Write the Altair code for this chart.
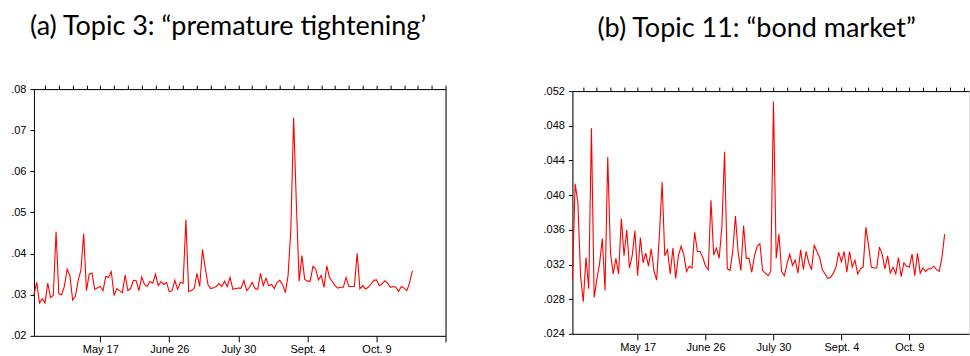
import altair as alt
import pandas as pd

# ---- data ----
topic3 = [0.030, 0.033, 0.028, 0.029, 0.028, 0.0328, 0.0293, 0.0298, 0.0453, 0.0302,
          0.030, 0.032, 0.0362, 0.0347, 0.0287, 0.0296, 0.0335, 0.036, 0.0448, 0.031,
          0.035, 0.0353, 0.0313, 0.0317, 0.032, 0.031, 0.0345, 0.0342, 0.0356, 0.0298,
          0.0315, 0.031, 0.0305, 0.0348, 0.031, 0.0315, 0.0335, 0.0334, 0.031, 0.0343,
          0.0325, 0.032, 0.0332, 0.0328, 0.035, 0.0322, 0.0332, 0.0325, 0.033, 0.0307,
          0.031, 0.0335, 0.0313, 0.033, 0.0328, 0.0482, 0.0308, 0.031, 0.0315, 0.0352,
          0.032, 0.041, 0.0365, 0.0325, 0.0315, 0.0317, 0.032, 0.0327, 0.032, 0.0333,
          0.032, 0.0342, 0.0313, 0.0315, 0.0316, 0.0316, 0.0335, 0.031, 0.0318, 0.033,
          0.0315, 0.0313, 0.0352, 0.0322, 0.034, 0.0322, 0.0325, 0.0315, 0.033, 0.0335,
          0.0325, 0.0305, 0.0347, 0.046, 0.073, 0.052, 0.0333, 0.0395, 0.0338, 0.0333,
          0.0333, 0.0369, 0.0362, 0.0336, 0.0347, 0.0318, 0.037, 0.0342, 0.0332, 0.0322,
          0.0316, 0.0318, 0.0318, 0.0342, 0.032, 0.032, 0.032, 0.0401, 0.0314, 0.0322,
          0.0314, 0.0318, 0.0326, 0.0335, 0.0336, 0.0322, 0.0326, 0.0334, 0.0328, 0.0318,
          0.032, 0.0318, 0.0308, 0.032, 0.0316, 0.031, 0.033, 0.0358]

topic11 = [0.0303, 0.0413, 0.0392, 0.0307, 0.0277, 0.0328, 0.0292, 0.0477, 0.0282, 0.0303,
           0.0321, 0.035, 0.029, 0.0444, 0.0334, 0.0309, 0.0327, 0.0309, 0.0373, 0.033,
           0.036, 0.0316, 0.033, 0.0359, 0.0307, 0.0351, 0.0322, 0.0333, 0.0318, 0.0338,
           0.0313, 0.0302, 0.0353, 0.0415, 0.033, 0.0337, 0.0309, 0.0339, 0.0304, 0.033,
           0.0341, 0.0331, 0.0312, 0.0318, 0.0316, 0.0357, 0.0335, 0.0335, 0.0328, 0.0318,
           0.0314, 0.0394, 0.0331, 0.0339, 0.0327, 0.0363, 0.045, 0.0315, 0.0313, 0.0335,
           0.0376, 0.0334, 0.0313, 0.0365, 0.0327, 0.0327, 0.0311, 0.033, 0.0341, 0.0344,
           0.0313, 0.031, 0.0307, 0.0312, 0.0508, 0.0327, 0.0355, 0.0312, 0.0307, 0.0321,
           0.0332, 0.0319, 0.0325, 0.031, 0.0337, 0.0314, 0.0335, 0.0322, 0.0314, 0.0342,
           0.0335, 0.0328, 0.0314, 0.0309, 0.0304, 0.0305, 0.031, 0.0317, 0.0334, 0.0323,
           0.0335, 0.0311, 0.0335, 0.0317, 0.0325, 0.0309, 0.0315, 0.0317, 0.0363, 0.0342,
           0.0317, 0.0316, 0.0316, 0.034, 0.0332, 0.0315, 0.033, 0.031, 0.0317, 0.0309,
           0.0328, 0.0306, 0.0322, 0.0318, 0.0317, 0.0332, 0.0307, 0.0333, 0.031, 0.0316,
           0.0312, 0.0315, 0.0315, 0.0318, 0.0314, 0.0312, 0.0328, 0.0355]

tick_pos = [25, 50, 75, 100, 125]
tick_labels = ["May 17", "June 26", "July 30", "Sept. 4", "Oct. 9"]
minor_pos = list(range(5, 151, 5))

title_a = "(a) Topic 3: \u201cpremature tightening\u2019"
title_b = "(b) Topic 11: \u201cbond market\u201d"

yticks_a = [0.02, 0.03, 0.04, 0.05, 0.06, 0.07, 0.08]
yticks_b = [0.024, 0.028, 0.032, 0.036, 0.040, 0.044, 0.048, 0.052]

label_expr = "''"
for p, l in reversed(list(zip(tick_pos, tick_labels))):
    label_expr = f"datum.value == {p} ? '{l}' : ({label_expr})"

RED = "#ff0000"
LBL_FONT = "Liberation Sans"


def panel(values, xmax, ydom, yticks, yfmt, width, height, title, title_dx, right_axis):
    df = pd.DataFrame({"idx": list(range(1, len(values) + 1)), "v": values})
    xs = alt.Scale(domain=[1, xmax], nice=False, zero=False)
    ys = alt.Scale(domain=ydom, nice=False, zero=False)
    base = alt.Chart(df)
    majors = [p for p in tick_pos + [150] if p <= xmax]
    minors = [p for p in minor_pos if p <= xmax]

    main = base.mark_line(color=RED, strokeWidth=1.1).encode(
        x=alt.X("idx:Q", scale=xs, title=None,
                axis=alt.Axis(values=majors, labelExpr=label_expr, tickSize=6,
                              labelPadding=2, domain=True, grid=False,
                              labelFont=LBL_FONT, labelFontSize=11, labelColor="black",
                              tickColor="black", domainColor="black",
                              labelFlush=False, labelOverlap=False)),
        y=alt.Y("v:Q", scale=ys, title=None,
                axis=alt.Axis(values=yticks, labelExpr=f"slice(format(datum.value, '{yfmt}'), 1)",
                              tickSize=4, labelPadding=4, domain=True, grid=False,
                              labelFont=LBL_FONT, labelFontSize=11, labelColor="black",
                              tickColor="black", domainColor="black",
                              labelFlush=False, labelOverlap=False)),
    )
    minor = base.mark_line(strokeOpacity=0).encode(
        x=alt.X("idx:Q", scale=xs, title=None,
                axis=alt.Axis(values=minors, labels=False, tickSize=4, domain=False,
                              grid=False, tickColor="black")),
        y=alt.Y("v:Q", scale=ys, title=None,
                axis=(alt.Axis(orient="right", labels=False, ticks=False, domain=True,
                               grid=False, domainColor="black") if right_axis else None)),
    )
    top = base.mark_line(strokeOpacity=0).encode(
        x=alt.X("idx:Q", scale=xs, title=None,
                axis=alt.Axis(orient="top", labels=False, ticks=False, domain=True,
                              grid=False, domainColor="black")),
        y=alt.Y("v:Q", scale=ys, title=None, axis=None),
    )
    return alt.layer(main, minor, top).resolve_axis(x="independent", y="independent").properties(
        width=width, height=height,
        title=alt.TitleParams(title, anchor="start", frame="group", dx=title_dx,
                              font="Lato", fontSize=27, fontWeight="normal",
                              color="black", offset=42),
    )


left = panel(topic3, 150, [0.02, 0.08], yticks_a, ".2f", 412, 247, title_a, -4, True)
right = panel(topic11, 146.96, [0.024, 0.052], yticks_b, ".3f", 397, 243, title_b, 25, False)

chart = alt.hconcat(left, right, spacing=127, bounds="flush", center=True).configure_view(
    stroke=None
).properties(
    padding={"left": 10, "top": 12, "right": 0, "bottom": 0}
).configure(background="white")

chart.save("out.html", embed_options={"renderer": "svg", "actions": False})
